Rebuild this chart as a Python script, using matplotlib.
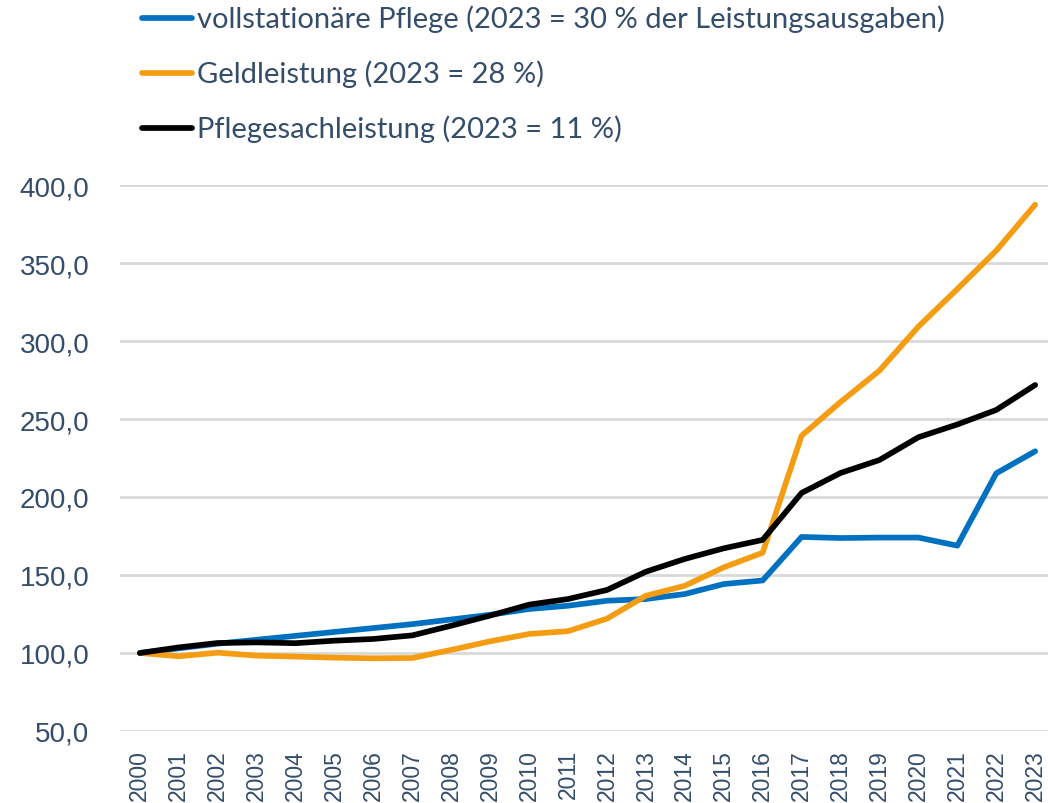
import matplotlib
matplotlib.use('Agg')
import matplotlib.pyplot as plt
from matplotlib.lines import Line2D

BLUE = '#0070C0'
ORANGE = '#F59D12'
BLACK = '#000000'
INK = '#344D6B'
GRID = '#D9D9D9'

years = list(range(2000, 2024))
vollstationaer = [100, 103, 106, 108.5, 111, 113.5, 116, 118.5, 121.5, 124.5,
                  128.2, 130.3, 133.5, 134.6, 137.8, 144.2, 146.5,
                  174.4, 173.7, 174.0, 174.0, 168.8, 215.2, 229.3]
geldleistung = [100, 97.9, 100.2, 98.3, 97.7, 97.0, 96.6, 96.8, 102.0, 107.5,
                112.2, 114.0, 122.0, 136.7, 143.1, 154.9, 164.3,
                239.3, 260.9, 281.0, 309.2, 333.3, 357.9, 387.4]
sachleistung = [100, 103.6, 106.4, 106.8, 106.3, 107.9, 109.0, 111.3, 117.5, 124.0,
                131.0, 134.6, 140.4, 152.1, 160.3, 167.1, 172.5,
                202.6, 215.4, 223.7, 238.3, 246.5, 255.8, 271.8]

series = [
    (vollstationaer, BLUE, 'vollstationäre Pflege (2023 = 30 % der Leistungsausgaben)'),
    (geldleistung, ORANGE, 'Geldleistung (2023 = 28 %)'),
    (sachleistung, BLACK, 'Pflegesachleistung (2023 = 11 %)'),
]

plt.rcParams['font.family'] = ['Liberation Sans', 'DejaVu Sans']

fig = plt.figure(figsize=(10.48, 8.04), dpi=100, facecolor='white')
ax = fig.add_axes([120 / 1048, 1 - 732 / 804, 1 - 120 / 1048, (732 - 186) / 804])

for vals, color, label in series:
    ax.plot(years, vals, color=color, lw=4.1, solid_capstyle='round',
            solid_joinstyle='round', zorder=3)

ax.set_xlim(1999.49, 2023.33)
ax.set_ylim(50, 400)
ax.set_yticks(range(50, 401, 50))
ax.set_yticklabels([f'{v},0' for v in range(50, 401, 50)], fontsize=20, color=INK)
ax.set_xticks(years)
ax.set_xticklabels([str(y) for y in years], rotation=90, fontsize=16.5, color=INK)
ax.tick_params(axis='both', length=0)
ax.tick_params(axis='y', pad=22)
ax.tick_params(axis='x', pad=13)
ax.grid(axis='y', color=GRID, lw=2, zorder=0)
for s in ax.spines.values():
    s.set_visible(False)

# legend drawn by hand at the top
for i, (vals, color, label) in enumerate(series):
    yy = 1 - (19 + i * 55) / 804
    fig.add_artist(Line2D([142 / 1048, 192 / 1048], [yy, yy], color=color, lw=4.1,
                          solid_capstyle='round', transform=fig.transFigure))
    fig.text(197 / 1048, yy, label, fontsize=21, color=INK, va='center', ha='left',
             family=['Lato', 'DejaVu Sans'])

plt.savefig('out.png', dpi=100, facecolor='white')
